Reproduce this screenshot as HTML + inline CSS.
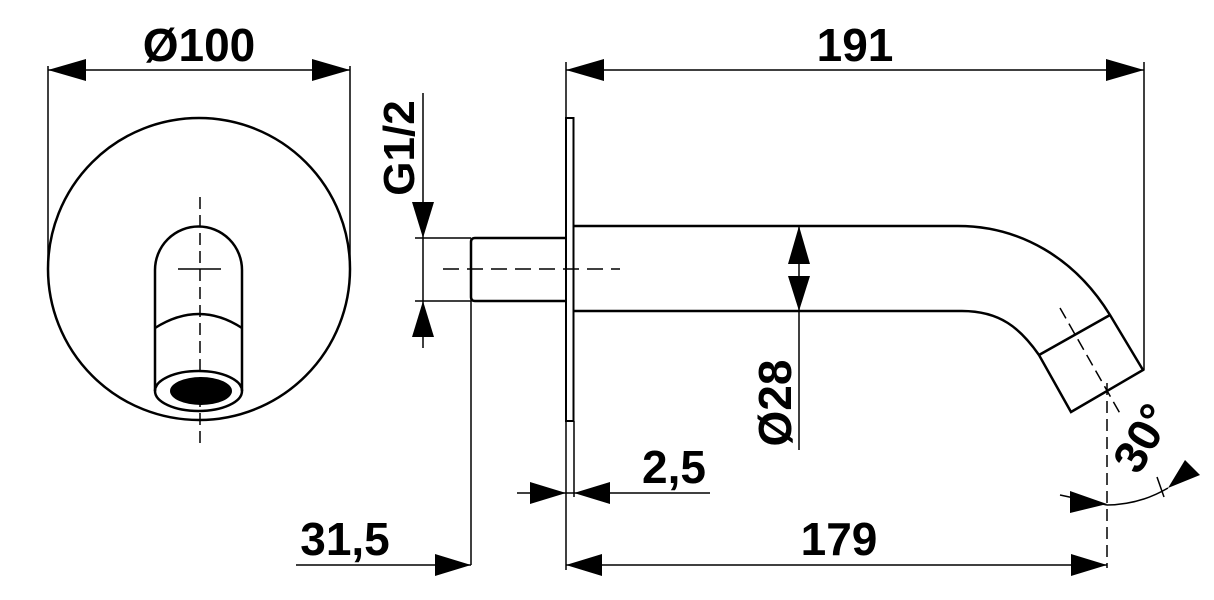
<!DOCTYPE html>
<html><head><meta charset="utf-8"><style>
html,body{margin:0;padding:0;background:#fff;}
svg{display:block;}
text{font-family:"Liberation Sans",Arial,sans-serif;font-weight:bold;fill:#000;}
</style></head><body>
<svg width="1214" height="600" viewBox="0 0 1214 600" xmlns="http://www.w3.org/2000/svg">
<g fill="none" stroke="#000">
<!-- front view -->
<circle cx="199" cy="269" r="151" stroke-width="2.5"/>
<path d="M155 391 V270 A43.5 43.5 0 0 1 242 270 V391" stroke-width="2.5"/>
<path d="M155 328 Q199 300 242 328" stroke-width="2.5"/>
<ellipse cx="198.5" cy="391" rx="43.5" ry="20" stroke-width="2.5"/>
<line x1="178" y1="269" x2="221" y2="269" stroke-width="1.5"/>
<line x1="200" y1="197" x2="200" y2="444" stroke-width="1.5" stroke-dasharray="12,6"/>
<!-- dim lines -->
<line x1="48" y1="70" x2="350" y2="70" stroke-width="1.5"/>
<line x1="48" y1="66" x2="48" y2="262" stroke-width="1.5"/>
<line x1="350" y1="66" x2="350" y2="262" stroke-width="1.5"/>
<!-- G1/2 -->
<line x1="423" y1="93" x2="423" y2="348" stroke-width="1.5"/>
<line x1="415" y1="238" x2="471" y2="238" stroke-width="1.5"/>
<line x1="415" y1="301" x2="471" y2="301" stroke-width="1.5"/>
<!-- stub -->
<path d="M566 238 H475 Q471 238 471 242 V297 Q471 301 475 301 H566" stroke-width="2.5"/>
<line x1="471" y1="301" x2="471" y2="565" stroke-width="1.5"/>
<!-- plate -->
<rect x="566" y="118" width="7.5" height="303" stroke-width="2"/>
<line x1="566" y1="62" x2="566" y2="118" stroke-width="1.5"/>
<line x1="566" y1="421" x2="566" y2="570" stroke-width="1.5"/>
<line x1="574" y1="421" x2="574" y2="497" stroke-width="1.5"/>
<line x1="443" y1="269" x2="620" y2="269" stroke-width="1.5" stroke-dasharray="16,8"/>
<!-- tube -->
<path d="M574 226 H958 C1020 226 1075 258 1110 315 L1143 370 L1071 412 L1039 355 C1020 328 1000 311 962 311 H574" stroke-width="2.5"/>
<line x1="1039" y1="355" x2="1110" y2="315" stroke-width="2.5"/>
<line x1="1060" y1="308" x2="1122" y2="417" stroke-width="1.5" stroke-dasharray="12,6"/>
<line x1="1107" y1="383" x2="1107" y2="568" stroke-width="1.5" stroke-dasharray="12,6"/>
<line x1="1144" y1="62" x2="1144" y2="370" stroke-width="1.5"/>
<line x1="566" y1="70" x2="1144" y2="70" stroke-width="1.5"/>
<!-- Ø28 -->
<line x1="799" y1="226" x2="799" y2="450" stroke-width="1.5"/>
<!-- 2,5 -->
<line x1="517" y1="493" x2="710" y2="493" stroke-width="1.5"/>
<!-- 31,5 and 179 -->
<line x1="296" y1="565" x2="471" y2="565" stroke-width="1.5"/>
<line x1="566" y1="565" x2="1107" y2="565" stroke-width="1.5"/>
<!-- 30 arc -->
<path d="M1107 505 A122 122 0 0 0 1168 488" stroke-width="1.5"/>
<line x1="1060" y1="495" x2="1107" y2="505" stroke-width="1.5"/>
<line x1="1157" y1="477" x2="1164" y2="497" stroke-width="1.5"/>
</g>
<g fill="#000">
<ellipse cx="201" cy="391" rx="31" ry="14"/>
<polygon points="48,70 86,59 86,81"/>
<polygon points="350,70 312,59 312,81"/>
<polygon points="566,70 604,59 604,81"/>
<polygon points="1144,70 1106,59 1106,81"/>
<polygon points="423,238 412,202 434,202"/>
<polygon points="423,301 412,337 434,337"/>
<polygon points="799,226 788,264 810,264"/>
<polygon points="799,311 788,276 810,276"/>
<polygon points="566,493 530,482 530,504"/>
<polygon points="574,493 610,482 610,504"/>
<polygon points="471,565 435,554 435,576"/>
<polygon points="566,565 602,554 602,576"/>
<polygon points="1107,565 1071,554 1071,576"/>
<polygon points="1107,504 1070,491 1070,513"/>
<polygon points="1168,488 1185,460 1200,475"/>
</g>
<text x="199" y="61" font-size="46" text-anchor="middle">Ø100</text>
<text x="855" y="61" font-size="46" text-anchor="middle">191</text>
<text x="839" y="555" font-size="46" text-anchor="middle">179</text>
<text x="345" y="555" font-size="46" text-anchor="middle">31,5</text>
<text x="674" y="483" font-size="46" text-anchor="middle">2,5</text>
<text transform="translate(414,148) rotate(-90)" font-size="44" text-anchor="middle">G1/2</text>
<text transform="translate(791,403) rotate(-90)" font-size="46" text-anchor="middle">Ø28</text>
<text transform="translate(1156,446) rotate(-60)" font-size="46" text-anchor="middle">30°</text>
</svg>
</body></html>
